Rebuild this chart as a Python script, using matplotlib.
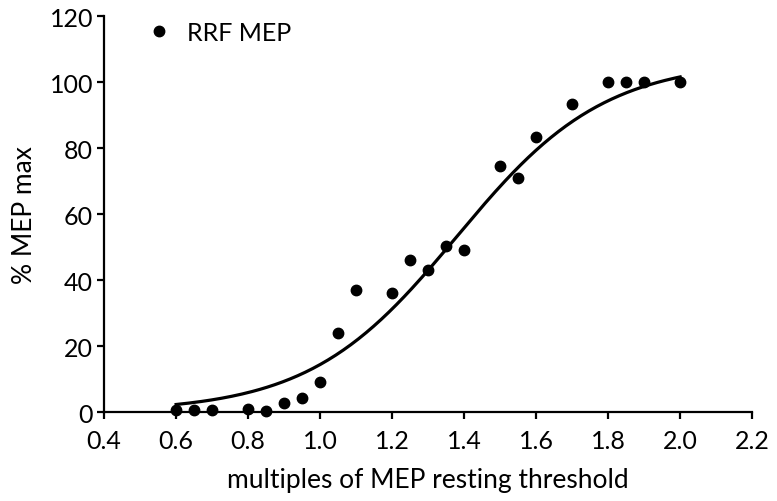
"""Recruitment curve: % MEP max against multiples of MEP resting threshold"""
import matplotlib.pyplot as plt
import numpy as np

# Measured points
intensity = [0.60, 0.65, 0.70, 0.80, 0.85, 0.90, 0.95, 1.00, 1.05, 1.10, 1.20,
             1.25, 1.30, 1.35, 1.40, 1.50, 1.55, 1.60, 1.70, 1.80, 1.85, 1.90,
             2.00]
mep_pct = [0.6, 0.5, 0.5, 1.0, 0.4, 2.9, 4.4, 9.0, 24.0, 37.0, 36.0,
           46.0, 43.0, 50.4, 49.0, 74.6, 71.0, 83.5, 93.5, 100.0, 100.0, 100.0,
           100.0]

# Boltzmann fit parameters
fit_bottom = 0.0
fit_top = 106.5
fit_v50 = 1.38
fit_slope = 0.205
fit_range = (0.60, 2.00)

x_ticks = [0.4, 0.6, 0.8, 1.0, 1.2, 1.4, 1.6, 1.8, 2.0, 2.2]
y_ticks = [0, 20, 40, 60, 80, 100, 120]


def plot():
    plt.rcParams['font.family'] = ['Lato', 'DejaVu Sans']
    fig = plt.figure(figsize=(7.77, 5.02), dpi=100)
    ax = fig.add_axes([0.134, 0.177, 0.834, 0.789])

    xs = np.linspace(fit_range[0], fit_range[1], 200)
    ys = fit_bottom + (fit_top - fit_bottom) / (1 + np.exp((fit_v50 - xs) / fit_slope))
    ax.plot(xs, ys, color='black', lw=2.3, zorder=2)
    ax.plot(intensity, mep_pct, 'o', color='black', ms=7.5, clip_on=False,
            zorder=3, label='RRF MEP')

    ax.set_xlim(0.4, 2.2)
    ax.set_ylim(0, 120)
    ax.set_xticks(x_ticks)
    ax.set_xticklabels(['{:.1f}'.format(t) for t in x_ticks])
    ax.set_yticks(y_ticks)

    for side in ['top', 'right']:
        ax.spines[side].set_visible(False)
    for side in ['left', 'bottom']:
        ax.spines[side].set_linewidth(1.6)
    ax.tick_params(direction='out', length=5, width=1.6, labelsize=18)
    ax.tick_params(axis='x', pad=7)
    ax.tick_params(axis='y', pad=3)

    ax.set_xlabel('multiples of MEP resting threshold', fontsize=19, labelpad=11)
    ax.set_ylabel('% MEP max', fontsize=19, labelpad=9)

    ax.legend(loc='upper left', bbox_to_anchor=(0.035, 1.045), frameon=False,
              fontsize=18, handlelength=0.8, handletextpad=0.7,
              markerscale=1.0, numpoints=1)

    fig.savefig('out.png', dpi=100)
    plt.close(fig)


if __name__ == "__main__":
    plot()
